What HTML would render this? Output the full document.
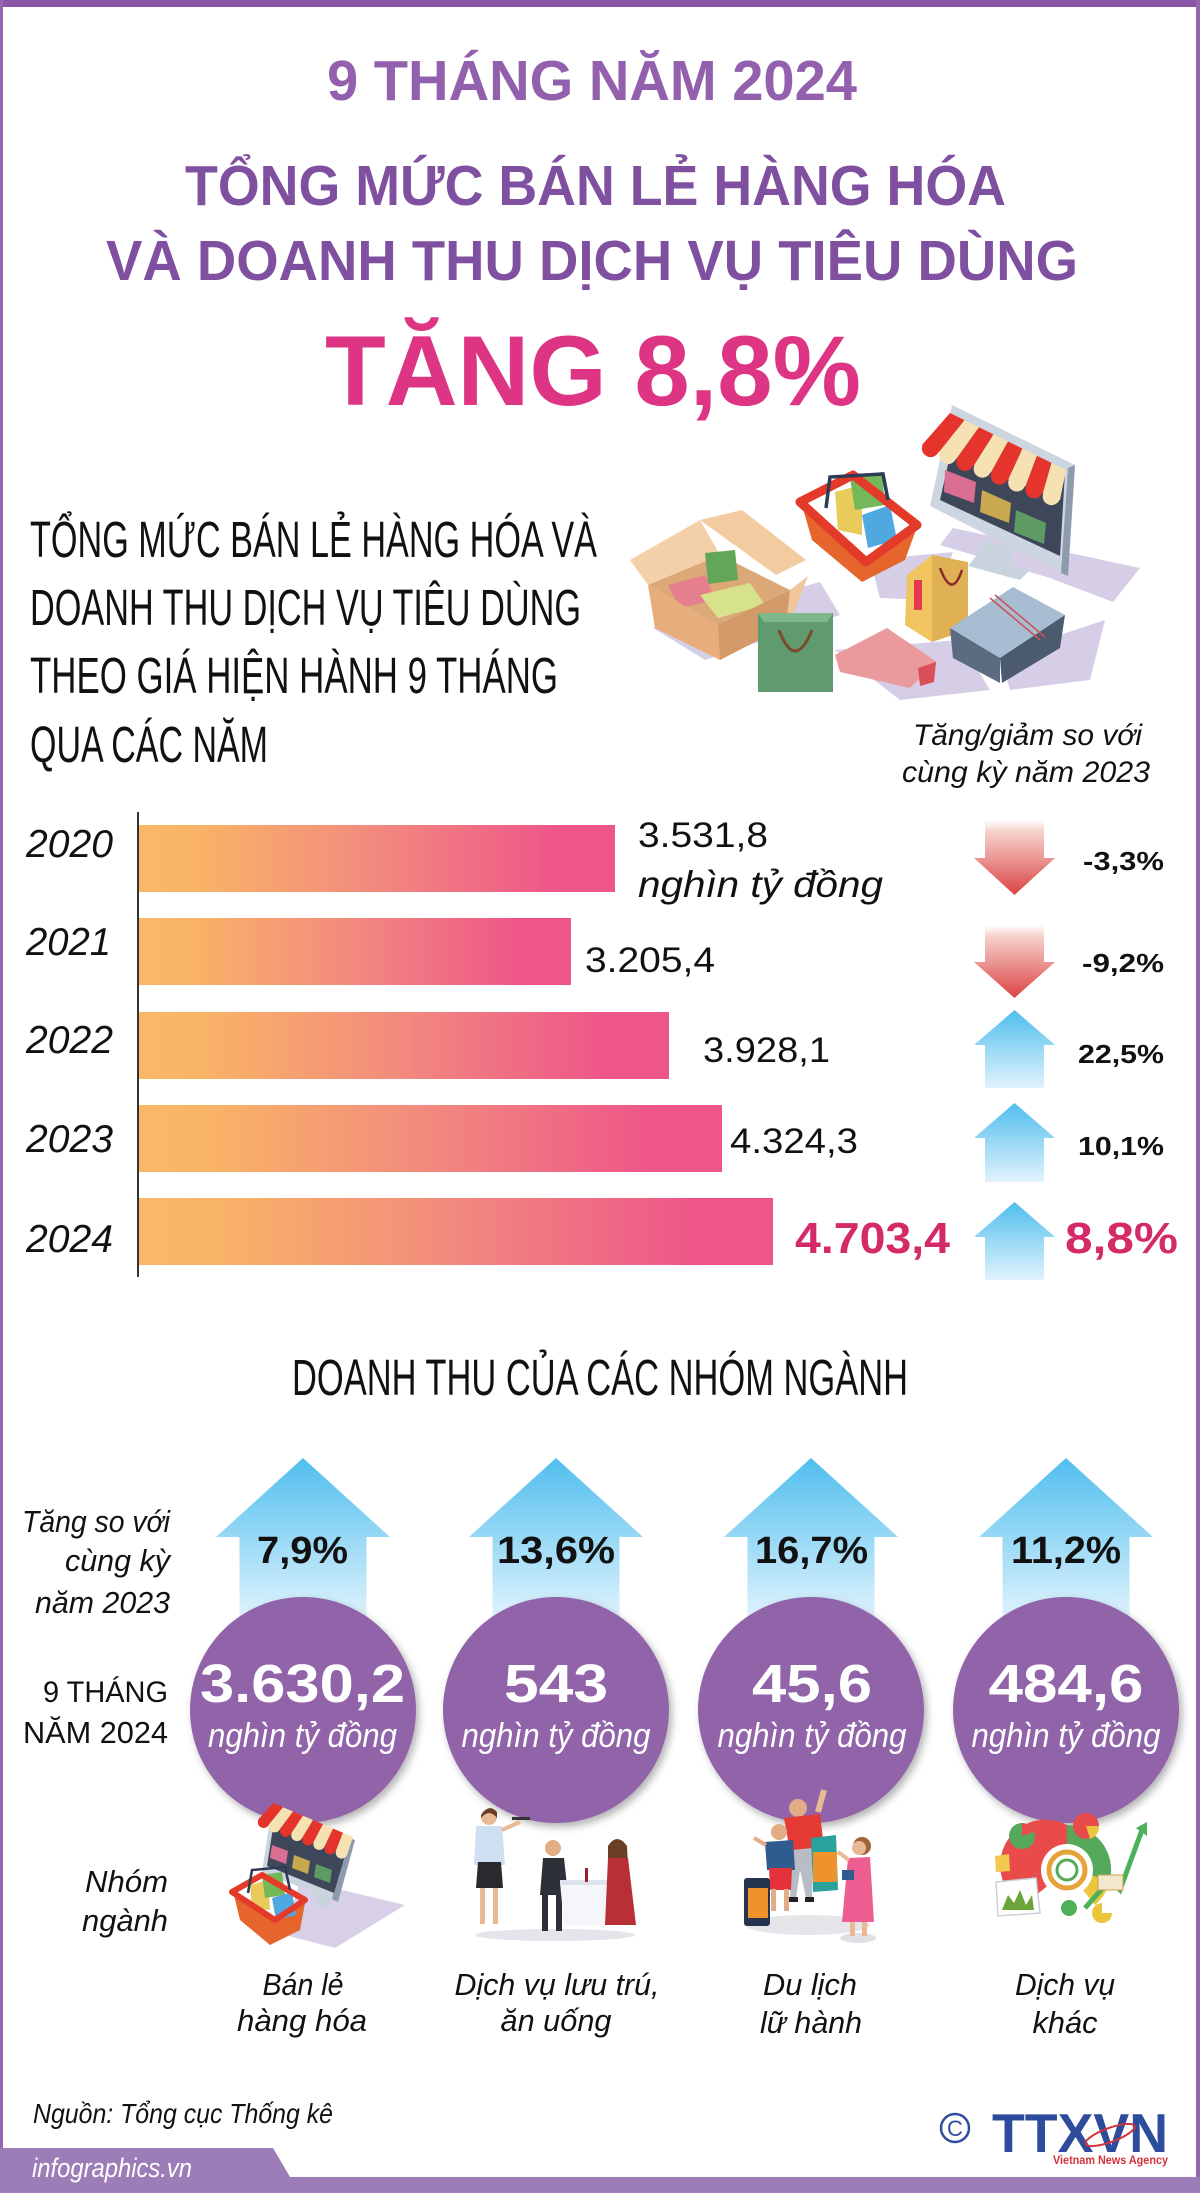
<!DOCTYPE html>
<html><head><meta charset="utf-8"><style>
html,body{margin:0;padding:0;background:#fff;}
svg{display:block;}
.t{font-family:"Liberation Sans","DejaVu Sans",sans-serif;}
.b{font-weight:bold;}
.i{font-style:italic;}
</style></head><body>
<svg width="1200" height="2193" viewBox="0 0 1200 2193" xmlns="http://www.w3.org/2000/svg">
<defs>
<linearGradient id="bar" x1="0" y1="0" x2="1" y2="0">
<stop offset="0" stop-color="#F9B867"/><stop offset="0.12" stop-color="#F9B466"/><stop offset="0.5" stop-color="#F2897E"/><stop offset="0.88" stop-color="#EE5689"/><stop offset="1" stop-color="#EE5689"/>
</linearGradient>
<linearGradient id="red" x1="0" y1="0" x2="0" y2="1">
<stop offset="0" stop-color="#FFFFFF"/><stop offset="0.15" stop-color="#F6D3CD"/><stop offset="1" stop-color="#DA4343"/>
</linearGradient>
<linearGradient id="blue" x1="0" y1="0" x2="0" y2="1">
<stop offset="0" stop-color="#50BEEE"/><stop offset="1" stop-color="#E2F3FC"/>
</linearGradient>
<linearGradient id="blue2" gradientUnits="userSpaceOnUse" x1="0" y1="1458" x2="0" y2="1625">
<stop offset="0" stop-color="#50BEEE"/><stop offset="1" stop-color="#E6F5FD"/>
</linearGradient>
<filter id="sh" x="-20%" y="-20%" width="140%" height="140%"><feDropShadow dx="3" dy="4" stdDeviation="4" flood-color="#000" flood-opacity="0.3"/></filter>
</defs>

<!-- frame -->
<rect x="0" y="0" width="1200" height="2193" fill="#fff"/>
<rect x="0" y="0" width="1200" height="7" fill="#8A56A6"/>
<rect x="0" y="0" width="3" height="2193" fill="#9466AE"/>
<rect x="1196" y="0" width="4" height="2193" fill="#9466AE"/>

<!-- Header -->
<text class="t b" x="327" y="100" font-size="57" fill="#9260AC" textLength="530" lengthAdjust="spacingAndGlyphs">9 THÁNG NĂM 2024</text>
<text class="t b" x="185" y="205" font-size="57" fill="#8050A0" textLength="821" lengthAdjust="spacingAndGlyphs">TỔNG MỨC BÁN LẺ HÀNG HÓA</text>
<text class="t b" x="106" y="280" font-size="57" fill="#8050A0" textLength="972" lengthAdjust="spacingAndGlyphs">VÀ DOANH THU DỊCH VỤ TIÊU DÙNG</text>
<text class="t b" x="325" y="405" font-size="99" fill="#DD3583" textLength="536" lengthAdjust="spacingAndGlyphs">TĂNG 8,8%</text>

<!-- Top illustration -->
<g>
<polygon points="953,528 1140,568 1113,602 1050,578 940,545" fill="#D6CDE7"/>
<polygon points="653,628 820,582 840,615 705,660" fill="#D6CDE7"/>
<polygon points="870,560 953,552 935,600 880,598" fill="#D6CDE7"/>
<polygon points="835,650 960,640 990,690 900,700" fill="#D6CDE7"/>
<polygon points="1000,655 1105,620 1090,680 1010,690" fill="#D6CDE7"/>
<!-- monitor -->
<polygon points="985,540 1012,548 1012,566 1030,570 1020,580 968,566 976,556" fill="#C9D3DE"/>
<polygon points="952,405 1075,465 1068,576 930,506" fill="#CDD6E0"/>
<polygon points="1068,468 1075,465 1068,576 1061,573" fill="#8E9BAC"/>
<polygon points="958,420 1065,472 1060,556 940,500" fill="#3E475A"/>
<polygon points="945,470 976,482 974,503 944,492" fill="#D86E92"/>
<polygon points="982,490 1011,503 1009,523 980,512" fill="#C9A94F"/>
<polygon points="1016,510 1046,523 1044,544 1014,532" fill="#5E9B64"/>
<polygon points="950,413 964.5,420.1 939.3,451.9 922,445" fill="#E4342B"/>
<polygon points="964.5,420.1 979,427.3 956.5,458.8 939.3,451.9" fill="#F6E1B3"/>
<polygon points="979,427.3 993.5,434.4 973.8,465.6 956.5,458.8" fill="#E4342B"/>
<polygon points="993.5,434.4 1008,441.5 991,472.5 973.8,465.6" fill="#F6E1B3"/>
<polygon points="1008,441.5 1022.5,448.6 1008.3,479.4 991,472.5" fill="#E4342B"/>
<polygon points="1022.5,448.6 1037,455.8 1025.5,486.3 1008.3,479.4" fill="#F6E1B3"/>
<polygon points="1037,455.8 1051.5,462.9 1042.8,493.1 1025.5,486.3" fill="#E4342B"/>
<polygon points="1051.5,462.9 1066,470 1060,500 1042.8,493.1" fill="#F6E1B3"/>
<circle cx="930.6" cy="448.4" r="8.7" fill="#E4342B"/>
<circle cx="947.9" cy="455.4" r="8.7" fill="#F6E1B3"/>
<circle cx="965.1" cy="462.2" r="8.7" fill="#E4342B"/>
<circle cx="982.4" cy="469" r="8.7" fill="#F6E1B3"/>
<circle cx="999.6" cy="476" r="8.7" fill="#E4342B"/>
<circle cx="1016.9" cy="482.8" r="8.7" fill="#F6E1B3"/>
<circle cx="1034.1" cy="489.7" r="8.7" fill="#E4342B"/>
<circle cx="1051.4" cy="496.5" r="8.7" fill="#F6E1B3"/>
<!-- basket -->
<polygon points="802,505 812,540 862,582 905,560 917,527 867,562" fill="#E5652D"/>
<polygon points="835,492 862,485 862,535 838,530" fill="#E9CB5C"/>
<polygon points="850,478 882,472 885,505 855,510" fill="#74B85A"/>
<polygon points="862,515 890,505 897,540 868,548" fill="#4FA8E0"/>
<polygon points="800,502 853,475 917,525 866,562" fill="none" stroke="#E33A2A" stroke-width="9" stroke-linejoin="round"/>
<path d="M826,508 L830,477 L883,474 L888,500" fill="none" stroke="#2F3A55" stroke-width="3.5"/>
<!-- box -->
<polygon points="700,520 742,510 806,560 776,575" fill="#F2CBA1"/>
<polygon points="630,560 700,520 720,555 648,585" fill="#F4D0A8"/>
<polygon points="648,585 720,555 790,590 718,625" fill="#DDA877"/>
<polygon points="705,553 735,550 738,580 708,584" fill="#63A657"/>
<polygon points="668,585 705,575 715,600 680,608" fill="#E57F8E"/>
<polygon points="700,595 750,583 765,605 718,618" fill="#D7E38A"/>
<polygon points="648,585 718,625 720,660 655,628" fill="#E7AD7A"/>
<polygon points="718,625 790,590 786,626 720,660" fill="#D39968"/>
<polygon points="790,590 808,576 792,618 786,626" fill="#F0C59A"/>
<!-- green bag -->
<rect x="758" y="613" width="75" height="79" fill="#5F9B6E"/>
<polygon points="758,613 833,613 827,622 764,622" fill="#7DB98A"/>
<path d="M779,630 Q795,672 812,630" fill="none" stroke="#7B4A2A" stroke-width="3"/>
<!-- yellow bag -->
<polygon points="907,575 932,555 932,642 905,625" fill="#F0C55F"/>
<polygon points="932,555 968,562 968,630 932,642" fill="#DFB054"/>
<rect x="914" y="580" width="8" height="30" fill="#E23A4C"/>
<path d="M940,568 Q952,600 962,570" fill="none" stroke="#8B2A2A" stroke-width="2.5"/>
<!-- pink wallet -->
<polygon points="835,655 887,628 937,662 910,688 840,672" fill="#EA9A9D"/>
<polygon points="918,668 936,662 934,682 920,686" fill="#D9505A"/>
<!-- gray box -->
<polygon points="950,628 1013,587 1065,615 1000,658" fill="#A8BDD2"/>
<polygon points="950,628 1000,658 1000,683 953,658" fill="#5B6B80"/>
<polygon points="1000,658 1065,615 1060,648 1002,683" fill="#4C5A6D"/>
<path d="M990,598 L1040,640 M995,595 L1045,637" stroke="#C9555A" stroke-width="1.6"/>
</g>

<!-- Section title -->
<text class="t" x="30" y="557" font-size="51" fill="#111" textLength="567" lengthAdjust="spacingAndGlyphs">TỔNG MỨC BÁN LẺ HÀNG HÓA VÀ</text>
<text class="t" x="30" y="625" font-size="51" fill="#111" textLength="551" lengthAdjust="spacingAndGlyphs">DOANH THU DỊCH VỤ TIÊU DÙNG</text>
<text class="t" x="30" y="693" font-size="51" fill="#111" textLength="528" lengthAdjust="spacingAndGlyphs">THEO GIÁ HIỆN HÀNH 9 THÁNG</text>
<text class="t" x="30" y="762" font-size="51" fill="#111" textLength="238" lengthAdjust="spacingAndGlyphs">QUA CÁC NĂM</text>

<text class="t i" x="913" y="745" font-size="30" fill="#111" textLength="229" lengthAdjust="spacingAndGlyphs">Tăng/giảm so với</text>
<text class="t i" x="902" y="782" font-size="30" fill="#111" textLength="248" lengthAdjust="spacingAndGlyphs">cùng kỳ năm 2023</text>

<!-- Bar chart -->
<line x1="138" y1="812" x2="138" y2="1277" stroke="#333" stroke-width="2"/>
<rect x="139" y="825" width="476" height="67" fill="url(#bar)"/>
<rect x="139" y="918" width="432" height="67" fill="url(#bar)"/>
<rect x="139" y="1012" width="530" height="67" fill="url(#bar)"/>
<rect x="139" y="1105" width="583" height="67" fill="url(#bar)"/>
<rect x="139" y="1198" width="634" height="67" fill="url(#bar)"/>

<text class="t i" x="26" y="857" font-size="39" fill="#111" textLength="87" lengthAdjust="spacingAndGlyphs">2020</text>
<text class="t i" x="26" y="955" font-size="39" fill="#111" textLength="85" lengthAdjust="spacingAndGlyphs">2021</text>
<text class="t i" x="26" y="1053" font-size="39" fill="#111" textLength="87" lengthAdjust="spacingAndGlyphs">2022</text>
<text class="t i" x="26" y="1152" font-size="39" fill="#111" textLength="87" lengthAdjust="spacingAndGlyphs">2023</text>
<text class="t i" x="26" y="1252" font-size="39" fill="#111" textLength="87" lengthAdjust="spacingAndGlyphs">2024</text>

<text class="t" x="638" y="847" font-size="35" fill="#111" textLength="130" lengthAdjust="spacingAndGlyphs">3.531,8</text>
<text class="t i" x="638" y="897" font-size="37" fill="#111" textLength="245" lengthAdjust="spacingAndGlyphs">nghìn tỷ đồng</text>
<text class="t" x="585" y="972" font-size="35" fill="#111" textLength="130" lengthAdjust="spacingAndGlyphs">3.205,4</text>
<text class="t" x="703" y="1062" font-size="35" fill="#111" textLength="127" lengthAdjust="spacingAndGlyphs">3.928,1</text>
<text class="t" x="730" y="1153" font-size="35" fill="#111" textLength="128" lengthAdjust="spacingAndGlyphs">4.324,3</text>
<text class="t b" x="795" y="1253" font-size="44" fill="#D42A68" textLength="155" lengthAdjust="spacingAndGlyphs">4.703,4</text>

<!-- change arrows -->
<path d="M985,820 H1044 V858 H1055 L1014.5,895 L974,858 H985 Z" fill="url(#red)"/>
<path d="M985,925 H1044 V962 H1055 L1014.5,998 L974,962 H985 Z" fill="url(#red)"/>
<path d="M1014.5,1010 L1055,1045 H1044 V1088 H985 V1045 H974 Z" fill="url(#blue)"/>
<path d="M1014.5,1103 L1055,1138 H1044 V1182 H985 V1138 H974 Z" fill="url(#blue)"/>
<path d="M1014.5,1202 L1055,1237 H1044 V1280 H985 V1237 H974 Z" fill="url(#blue)"/>

<text class="t b" x="1083" y="870" font-size="26" fill="#111" textLength="81" lengthAdjust="spacingAndGlyphs">-3,3%</text>
<text class="t b" x="1082" y="972" font-size="26" fill="#111" textLength="82" lengthAdjust="spacingAndGlyphs">-9,2%</text>
<text class="t b" x="1078" y="1063" font-size="26" fill="#111" textLength="86" lengthAdjust="spacingAndGlyphs">22,5%</text>
<text class="t b" x="1078" y="1155" font-size="26" fill="#111" textLength="86" lengthAdjust="spacingAndGlyphs">10,1%</text>
<text class="t b" x="1065" y="1253" font-size="44" fill="#D42A68" textLength="113" lengthAdjust="spacingAndGlyphs">8,8%</text>

<!-- Section 3 title -->
<text class="t" x="292" y="1395" font-size="51" fill="#111" textLength="616" lengthAdjust="spacingAndGlyphs">DOANH THU CỦA CÁC NHÓM NGÀNH</text>

<!-- big arrows -->
<path d="M303,1458 L390,1537 H366.5 V1680 H239.5 V1537 H216 Z" fill="url(#blue2)"/>
<path d="M556,1458 L643,1537 H619.5 V1680 H492.5 V1537 H469 Z" fill="url(#blue2)"/>
<path d="M811,1458 L898,1537 H874.5 V1680 H747.5 V1537 H724 Z" fill="url(#blue2)"/>
<path d="M1066,1458 L1153,1537 H1129.5 V1680 H1002.5 V1537 H979 Z" fill="url(#blue2)"/>

<text class="t b" x="302.5" y="1563" font-size="38" fill="#111" text-anchor="middle" textLength="91" lengthAdjust="spacingAndGlyphs">7,9%</text>
<text class="t b" x="556" y="1563" font-size="38" fill="#111" text-anchor="middle" textLength="118" lengthAdjust="spacingAndGlyphs">13,6%</text>
<text class="t b" x="811.5" y="1563" font-size="38" fill="#111" text-anchor="middle" textLength="113" lengthAdjust="spacingAndGlyphs">16,7%</text>
<text class="t b" x="1066" y="1563" font-size="38" fill="#111" text-anchor="middle" textLength="110" lengthAdjust="spacingAndGlyphs">11,2%</text>

<!-- circles -->
<g filter="url(#sh)">
<circle cx="303" cy="1710" r="113" fill="#9163A9"/>
<circle cx="556" cy="1710" r="113" fill="#9163A9"/>
<circle cx="811" cy="1710" r="113" fill="#9163A9"/>
<circle cx="1066" cy="1710" r="113" fill="#9163A9"/>
</g>
<text class="t b" x="302.5" y="1702" font-size="54" fill="#fff" text-anchor="middle" textLength="205" lengthAdjust="spacingAndGlyphs">3.630,2</text>
<text class="t b" x="556" y="1702" font-size="54" fill="#fff" text-anchor="middle" textLength="104" lengthAdjust="spacingAndGlyphs">543</text>
<text class="t b" x="812" y="1702" font-size="54" fill="#fff" text-anchor="middle" textLength="120" lengthAdjust="spacingAndGlyphs">45,6</text>
<text class="t b" x="1066" y="1702" font-size="54" fill="#fff" text-anchor="middle" textLength="155" lengthAdjust="spacingAndGlyphs">484,6</text>
<text class="t i" x="302.5" y="1747" font-size="34" fill="#fff" text-anchor="middle" textLength="189" lengthAdjust="spacingAndGlyphs">nghìn tỷ đồng</text>
<text class="t i" x="556" y="1747" font-size="34" fill="#fff" text-anchor="middle" textLength="189" lengthAdjust="spacingAndGlyphs">nghìn tỷ đồng</text>
<text class="t i" x="812" y="1747" font-size="34" fill="#fff" text-anchor="middle" textLength="189" lengthAdjust="spacingAndGlyphs">nghìn tỷ đồng</text>
<text class="t i" x="1066" y="1747" font-size="34" fill="#fff" text-anchor="middle" textLength="189" lengthAdjust="spacingAndGlyphs">nghìn tỷ đồng</text>

<!-- left labels -->
<text class="t i" x="170" y="1532" font-size="31" fill="#111" text-anchor="end" textLength="148" lengthAdjust="spacingAndGlyphs">Tăng so với</text>
<text class="t i" x="170" y="1571" font-size="31" fill="#111" text-anchor="end" textLength="105" lengthAdjust="spacingAndGlyphs">cùng kỳ</text>
<text class="t i" x="170" y="1613" font-size="31" fill="#111" text-anchor="end" textLength="135" lengthAdjust="spacingAndGlyphs">năm 2023</text>
<text class="t" x="168" y="1702" font-size="30" fill="#111" text-anchor="end" textLength="125" lengthAdjust="spacingAndGlyphs">9 THÁNG</text>
<text class="t" x="168" y="1743" font-size="31" fill="#111" text-anchor="end" textLength="145" lengthAdjust="spacingAndGlyphs">NĂM 2024</text>
<text class="t i" x="168" y="1892" font-size="31" fill="#111" text-anchor="end" textLength="83" lengthAdjust="spacingAndGlyphs">Nhóm</text>
<text class="t i" x="168" y="1931" font-size="31" fill="#111" text-anchor="end" textLength="86" lengthAdjust="spacingAndGlyphs">ngành</text>

<!-- icon 1: retail -->
<g>
<polygon points="300,1880 405,1905 335,1948 285,1935" fill="#D8CFE8"/>
<polygon points="310,1890 330,1898 330,1908 318,1905" fill="#C9D3DE"/>
<polygon points="272,1806 355,1840 338,1902 262,1872" fill="#CBD4DF"/>
<polygon points="348,1838 355,1840 338,1902 332,1899" fill="#8E9BAC"/>
<polygon points="275,1815 348,1845 334,1893 267,1866" fill="#3E475A"/>
<polygon points="272,1845 288,1851 286,1864 270,1858" fill="#D86E92"/>
<polygon points="294,1855 310,1861 308,1874 292,1868" fill="#C9A94F"/>
<polygon points="316,1864 332,1870 330,1883 314,1877" fill="#5E9B64"/>
<polygon points="273,1803 283,1807.3 269.1,1824.4 258,1820" fill="#E4342B"/>
<polygon points="283,1807.3 293,1811.5 280.3,1828.8 269.1,1824.4" fill="#F6E1B3"/>
<polygon points="293,1811.5 303,1815.8 291.4,1833.1 280.3,1828.8" fill="#E4342B"/>
<polygon points="303,1815.8 313,1820 302.5,1837.5 291.4,1833.1" fill="#F6E1B3"/>
<polygon points="313,1820 323,1824.3 313.6,1841.9 302.5,1837.5" fill="#E4342B"/>
<polygon points="323,1824.3 333,1828.5 324.8,1846.3 313.6,1841.9" fill="#F6E1B3"/>
<polygon points="333,1828.5 343,1832.8 335.9,1850.6 324.8,1846.3" fill="#E4342B"/>
<polygon points="343,1832.8 353,1837 347,1855 335.9,1850.6" fill="#F6E1B3"/>
<circle cx="263.6" cy="1822.2" r="5.8" fill="#E4342B"/>
<circle cx="274.7" cy="1826.6" r="5.8" fill="#F6E1B3"/>
<circle cx="285.8" cy="1831" r="5.8" fill="#E4342B"/>
<circle cx="297" cy="1835.3" r="5.8" fill="#F6E1B3"/>
<circle cx="308" cy="1839.7" r="5.8" fill="#E4342B"/>
<circle cx="319.2" cy="1844.1" r="5.8" fill="#F6E1B3"/>
<circle cx="330.3" cy="1848.5" r="5.8" fill="#E4342B"/>
<circle cx="341.5" cy="1852.8" r="5.8" fill="#F6E1B3"/>
<polygon points="234,1895 240,1920 270,1945 300,1930 305,1903 275,1922" fill="#E5652D"/>
<polygon points="250,1885 268,1880 270,1910 252,1908" fill="#E9CB5C"/>
<polygon points="262,1875 282,1872 285,1895 265,1898" fill="#74B85A"/>
<polygon points="272,1898 292,1892 296,1915 276,1920" fill="#4FA8E0"/>
<polygon points="232,1892 262,1875 305,1900 275,1920" fill="none" stroke="#E33A2A" stroke-width="6" stroke-linejoin="round"/>
<path d="M248,1893 L252,1870 L285,1867 L290,1890" fill="none" stroke="#2F3A55" stroke-width="2.5"/>
</g>

<!-- icon 2: dining -->
<g>
<ellipse cx="555" cy="1935" rx="80" ry="6" fill="#E4E4EA"/>
<circle cx="489" cy="1817" r="8" fill="#E9B994"/>
<path d="M481,1815 Q489,1803 497,1812 L497,1818 Q489,1808 481,1818 Z" fill="#6B3F26"/>
<polygon points="476,1826 502,1826 505,1865 474,1865" fill="#CFE0F2"/>
<polygon points="478,1862 501,1862 503,1888 476,1888" fill="#2A2A2E"/>
<rect x="480" y="1888" width="5" height="36" fill="#E9B994"/>
<rect x="493" y="1888" width="5" height="36" fill="#E9B994"/>
<path d="M502,1830 L520,1822" stroke="#E9B994" stroke-width="4"/>
<rect x="512" y="1817" width="18" height="3" fill="#333"/>
<circle cx="553" cy="1848" r="8" fill="#E2AC86"/>
<polygon points="543,1858 564,1858 568,1895 540,1895" fill="#2E3038"/>
<rect x="542" y="1893" width="6" height="38" fill="#2E3038"/>
<rect x="556" y="1893" width="6" height="38" fill="#2E3038"/>
<polygon points="560,1882 622,1882 618,1925 564,1925" fill="#F4F6FA"/>
<rect x="560" y="1880" width="62" height="5" fill="#DDE3EC"/>
<circle cx="617" cy="1848" r="8" fill="#E2AC86"/>
<path d="M608,1846 Q617,1832 627,1846 L628,1866 L608,1862 Z" fill="#6B3F26"/>
<polygon points="608,1858 628,1858 636,1925 605,1925" fill="#B82F35"/>
<rect x="585" y="1868" width="3" height="14" fill="#9B2230"/>
</g>

<!-- icon 3: travel -->
<g>
<ellipse cx="808" cy="1925" rx="62" ry="10" fill="#E6E6EA"/>
<ellipse cx="858" cy="1938" rx="18" ry="5" fill="#E0E0E4"/>
<path d="M818,1812 L824,1790" stroke="#E9B994" stroke-width="6"/>
<circle cx="798" cy="1808" r="9" fill="#E2AC86"/>
<polygon points="784,1818 820,1814 824,1848 790,1852" fill="#E43A33"/>
<polygon points="792,1850 812,1848 812,1898 806,1898 800,1870 796,1898 790,1898" fill="#B8BCC4"/>
<rect x="789" y="1897" width="9" height="5" fill="#222"/>
<rect x="805" y="1897" width="9" height="5" fill="#222"/>
<polygon points="811,1838 836,1835 838,1890 813,1892" fill="#2AA19A"/>
<rect x="813" y="1852" width="24" height="30" fill="#F0922B"/>
<circle cx="779" cy="1832" r="8" fill="#E2AC86"/>
<polygon points="765,1842 793,1840 795,1870 767,1870" fill="#2F5C8F"/>
<path d="M766,1845 L754,1838" stroke="#E2AC86" stroke-width="4"/>
<polygon points="769,1868 792,1868 791,1890 770,1890" fill="#E5323A"/>
<rect x="771" y="1889" width="5" height="22" fill="#E2AC86"/>
<rect x="784" y="1889" width="5" height="22" fill="#E2AC86"/>
<rect x="744" y="1878" width="26" height="48" rx="3" fill="#24344F"/>
<rect x="748" y="1888" width="20" height="30" fill="#F0922B"/>
<circle cx="862" cy="1846" r="9" fill="#A0623C"/>
<circle cx="859" cy="1848" r="7" fill="#E9B994"/>
<polygon points="848,1858 870,1857 874,1922 842,1922" fill="#EE5D91"/>
<rect x="842" y="1870" width="12" height="10" fill="#2F5C8F"/>
<path d="M849,1860 L838,1852" stroke="#E9B994" stroke-width="4"/>
<rect x="850" y="1922" width="5" height="14" fill="#E9B994"/>
<rect x="862" y="1922" width="5" height="14" fill="#E9B994"/>
</g>

<!-- icon 4: charts -->
<g>
<path d="M1024,1905 A45,45 0 0 1 1067,1825 L1067,1870 Z" fill="#E84B4A"/>
<path d="M1067,1825 A45,45 0 0 1 1110,1880 L1067,1870 Z" fill="#55A95A"/>
<path d="M1110,1880 A45,45 0 0 1 1095,1905 L1067,1870 Z" fill="#EBC53C"/>
<circle cx="1067" cy="1870" r="26" fill="#fff"/>
<circle cx="1067" cy="1870" r="18" fill="none" stroke="#E6A33A" stroke-width="5"/>
<circle cx="1067" cy="1870" r="10" fill="none" stroke="#55A95A" stroke-width="3"/>
<circle cx="1022" cy="1836" r="13" fill="#55A95A"/>
<path d="M1022,1836 L1022,1823 A13,13 0 0 1 1034,1832 Z" fill="#E84B4A"/>
<circle cx="1086" cy="1826" r="13" fill="#E84B4A"/>
<path d="M1086,1826 L1099,1826 A13,13 0 0 1 1090,1839 Z" fill="#EBC53C"/>
<polyline points="1085,1908 1110,1880 1120,1890 1142,1830" fill="none" stroke="#4DB05A" stroke-width="5"/>
<polygon points="1136,1828 1147,1822 1147,1836" fill="#4DB05A"/>
<polygon points="996,1882 1036,1878 1040,1913 998,1916" fill="#fff" stroke="#C9D0DA" stroke-width="1.5"/>
<polygon points="1002,1910 1008,1895 1014,1903 1020,1890 1026,1905 1032,1895 1034,1910" fill="#6BA53A"/>
<polygon points="995,1856 1009,1854 1010,1871 996,1872" fill="#F2C94C"/>
<rect x="1098" y="1875" width="25" height="15" fill="#F4E7D0" stroke="#D2A24C" stroke-width="1"/>
<circle cx="1069" cy="1908" r="8" fill="#4DB05A"/>
<circle cx="1102" cy="1913" r="10" fill="#EBC53C"/>
<path d="M1102,1913 L1102,1903 A10,10 0 0 1 1112,1913 Z" fill="#fff"/>
</g>

<!-- bottom labels -->
<text class="t i" x="303" y="1995" font-size="31" fill="#111" text-anchor="middle" textLength="81" lengthAdjust="spacingAndGlyphs">Bán lẻ</text>
<text class="t i" x="302" y="2031" font-size="31" fill="#111" text-anchor="middle" textLength="130" lengthAdjust="spacingAndGlyphs">hàng hóa</text>
<text class="t i" x="557" y="1995" font-size="31" fill="#111" text-anchor="middle" textLength="205" lengthAdjust="spacingAndGlyphs">Dịch vụ lưu trú,</text>
<text class="t i" x="556" y="2031" font-size="31" fill="#111" text-anchor="middle" textLength="111" lengthAdjust="spacingAndGlyphs">ăn uống</text>
<text class="t i" x="810" y="1995" font-size="31" fill="#111" text-anchor="middle" textLength="94" lengthAdjust="spacingAndGlyphs">Du lịch</text>
<text class="t i" x="811" y="2033" font-size="31" fill="#111" text-anchor="middle" textLength="102" lengthAdjust="spacingAndGlyphs">lữ hành</text>
<text class="t i" x="1065" y="1995" font-size="31" fill="#111" text-anchor="middle" textLength="100" lengthAdjust="spacingAndGlyphs">Dịch vụ</text>
<text class="t i" x="1065" y="2033" font-size="31" fill="#111" text-anchor="middle" textLength="65" lengthAdjust="spacingAndGlyphs">khác</text>

<text class="t i" x="33" y="2123" font-size="28" fill="#111" textLength="300" lengthAdjust="spacingAndGlyphs">Nguồn: Tổng cục Thống kê</text>

<!-- logo -->
<circle cx="955" cy="2128" r="14" fill="none" stroke="#2D4D9D" stroke-width="2.5"/>
<text class="t" x="955" y="2136" font-size="22" fill="#2D4D9D" text-anchor="middle">C</text>
<text class="t b" x="992" y="2152" font-size="55" fill="#2E4C9C" textLength="176" lengthAdjust="spacingAndGlyphs">TTXVN</text>
<ellipse cx="1110" cy="2135" rx="26" ry="7" fill="none" stroke="#D2323A" stroke-width="2" transform="rotate(-20 1110 2135)"/>
<text class="t b" x="1053" y="2164" font-size="12" fill="#D2323A" textLength="115" lengthAdjust="spacingAndGlyphs">Vietnam News Agency</text>

<!-- bottom band -->
<polygon points="0,2148 273,2148 290,2177 1200,2177 1200,2193 0,2193" fill="#9C7DB7"/>
<text class="t i" x="32" y="2177" font-size="27" fill="#fff" textLength="160" lengthAdjust="spacingAndGlyphs">infographics.vn</text>
</svg>
</body></html>
